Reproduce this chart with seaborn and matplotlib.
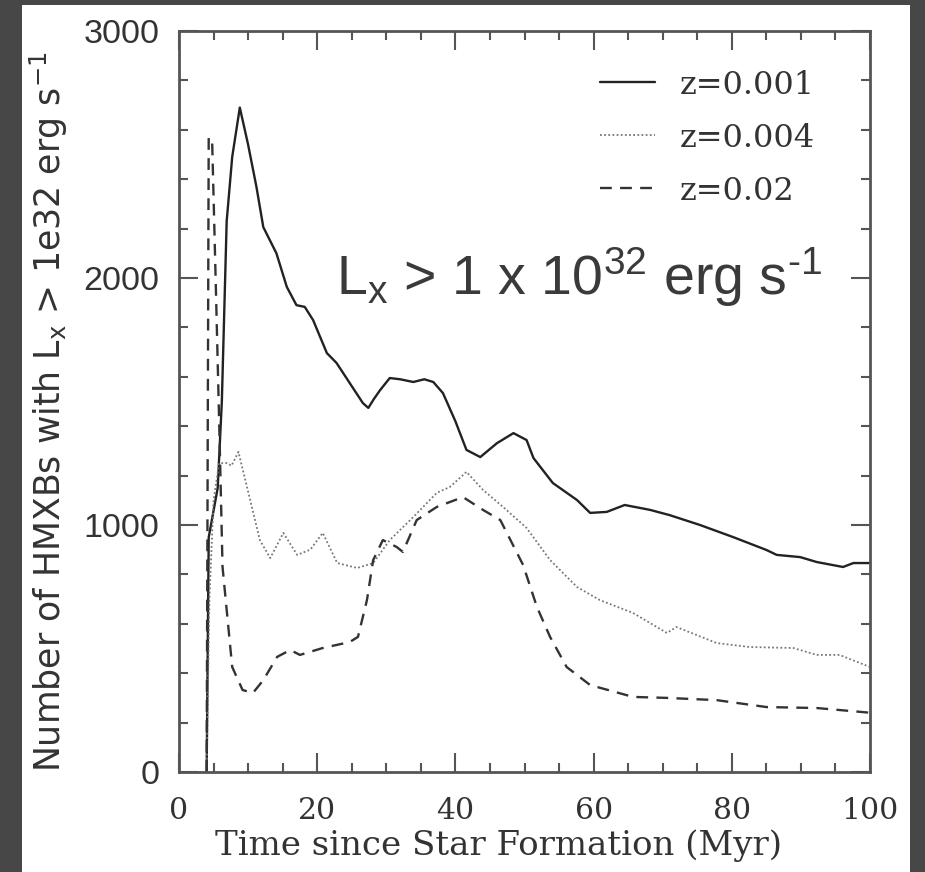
import matplotlib
matplotlib.use("Agg")
import matplotlib.pyplot as plt
import seaborn as sns
import pandas as pd
from matplotlib.patches import Rectangle
from matplotlib.ticker import MultipleLocator

# ---- data ----
labels = ["z=0.001", "z=0.004", "z=0.02"]

t_z001 = [4.0, 4.3, 5.6, 6.2, 6.9, 7.7, 8.8, 10.0, 11.2, 12.2, 14.1, 15.6, 17.0, 18.2,
          19.4, 21.4, 22.8, 24.7, 26.6, 27.4, 28.2, 29.1, 30.5, 32.0, 33.9, 35.5, 36.8,
          38.2, 40.0, 41.6, 43.6, 46.0, 48.4, 50.3, 51.3, 54.1, 57.6, 59.5, 61.9, 64.5,
          68.2, 71.0, 75.4, 80.2, 85.0, 86.5, 89.9, 92.3, 96.1, 97.6, 100.0]
n_z001 = [0, 950, 1150, 1500, 2230, 2490, 2690, 2540, 2370, 2206, 2100, 1964, 1890, 1883,
          1830, 1696, 1656, 1575, 1494, 1474, 1510, 1546, 1595, 1590, 1579, 1590, 1579,
          1534, 1420, 1304, 1275, 1331, 1372, 1344, 1271, 1170, 1101, 1049, 1053, 1081,
          1061, 1040, 1000, 951, 899, 879, 870, 850, 830, 846, 846]

t_z004 = [4.0, 4.4, 5.0, 5.8, 6.9, 7.6, 8.6, 10.3, 11.7, 13.2, 15.1, 17.1, 19.0, 20.8,
          22.9, 25.8, 28.1, 30.5, 33.9, 37.3, 39.2, 41.6, 44.0, 46.9, 50.3, 53.7, 57.6,
          60.9, 65.7, 70.6, 72.0, 77.8, 82.6, 88.9, 92.3, 95.6, 100.0]
n_z004 = [0, 700, 1100, 1250, 1251, 1240, 1296, 1101, 939, 866, 968, 879, 900, 968,
          846, 826, 846, 939, 1032, 1130, 1154, 1215, 1142, 1073, 988, 858, 749,
          696, 644, 563, 587, 522, 506, 502, 474, 474, 425]

t_z02 = [4.0, 4.3, 4.8, 5.3, 5.9, 6.3, 7.7, 9.2, 10.7, 12.2, 14.2, 16.1, 17.5, 20.8,
         24.7, 25.9, 27.2, 28.1, 29.5, 31.5, 32.4, 34.4, 37.3, 41.1, 44.0, 46.5, 49.8,
         51.8, 53.7, 56.1, 59.5, 65.7, 70.6, 77.8, 85.0, 92.3, 100.0]
n_z02 = [0, 2570, 2550, 2000, 1316, 830, 425, 332, 320, 372, 466, 494, 474, 502,
         526, 547, 696, 858, 939, 911, 891, 1020, 1073, 1113, 1061, 1020, 838,
         668, 547, 425, 352, 304, 300, 291, 263, 259, 240]

x_ticks = [0, 20, 40, 60, 80, 100]
y_ticks = [0, 1000, 2000, 3000]

# ---- style ----
sns.set_style("ticks")
plt.rcParams["font.family"] = ["DejaVu Serif"]
plt.rcParams["mathtext.fontset"] = "dejavuserif"

W, H = 925, 872
fig = plt.figure(figsize=(W / 100, H / 100), dpi=100, facecolor="#474747")
fig.patches.append(Rectangle((22 / W, 0), (910 - 22) / W, (H - 5) / H,
                             transform=fig.transFigure, facecolor="white",
                             edgecolor="none", zorder=-10))
ax = fig.add_axes([179 / W, 1 - 772 / H, (870 - 179) / W, (772 - 31) / H])
ax.set_facecolor("white")

sns.lineplot(x=t_z001, y=n_z001, ax=ax, color="#222222", lw=1.7, label=labels[0])
sns.lineplot(x=t_z004, y=n_z004, ax=ax, color="#777777", lw=1.3,
             linestyle=(0, (1, 1.3)), label=labels[1])
sns.lineplot(x=t_z02, y=n_z02, ax=ax, color="#333333", lw=1.7,
             linestyle=(0, (5, 3.5)), label=labels[2])

ax.set_xlim(0, 100)
ax.set_ylim(0, 3000)
ax.set_xticks(x_ticks)
ax.set_yticks(y_ticks)
ax.xaxis.set_minor_locator(MultipleLocator(5))
ax.yaxis.set_minor_locator(MultipleLocator(200))
ax.tick_params(which="both", direction="in", top=True, right=True,
               colors="#555555", labelcolor="#333333")
ax.tick_params(axis="x", labelsize=21.5, pad=18)
ax.tick_params(axis="y", labelsize=24.5, pad=14)
ax.tick_params(which="major", length=14, width=1.5)
ax.tick_params(which="minor", length=6.5, width=1.5)
for lbl in ax.get_yticklabels():
    lbl.set_fontfamily("Liberation Sans")
for s in ax.spines.values():
    s.set_color("#555555")
    s.set_linewidth(2)

ax.set_xlabel("Time since Star Formation (Myr)", fontsize=24.5, color="#333333")
ax.xaxis.set_label_coords(0.462, -0.078)
ax.set_ylabel(r"Number of HMXBs with L$_\mathregular{x}$ > 1e32 erg s$^\mathregular{-1}$",
              fontsize=25, color="#333333", family="DejaVu Sans")
ax.yaxis.set_label_coords(-0.158, 0.486)

leg = ax.legend(loc="upper right", bbox_to_anchor=(0.920, 0.948), frameon=False,
                fontsize=23, handlelength=1.72, handletextpad=0.78, labelspacing=0.69,
                borderpad=0, borderaxespad=0)
for txt in leg.get_texts():
    txt.set_color("#333333")

fig.text(336 / W, 1 - 295 / H,
         "L$_\\mathregular{x}$ > 1 x 10$^\\mathregular{32}$ erg s$^\\mathregular{\u20101}$",
         family="Liberation Sans", fontsize=40, color="#3a3a3a", va="baseline")

fig.savefig("out.png", dpi=100, facecolor=fig.get_facecolor())
